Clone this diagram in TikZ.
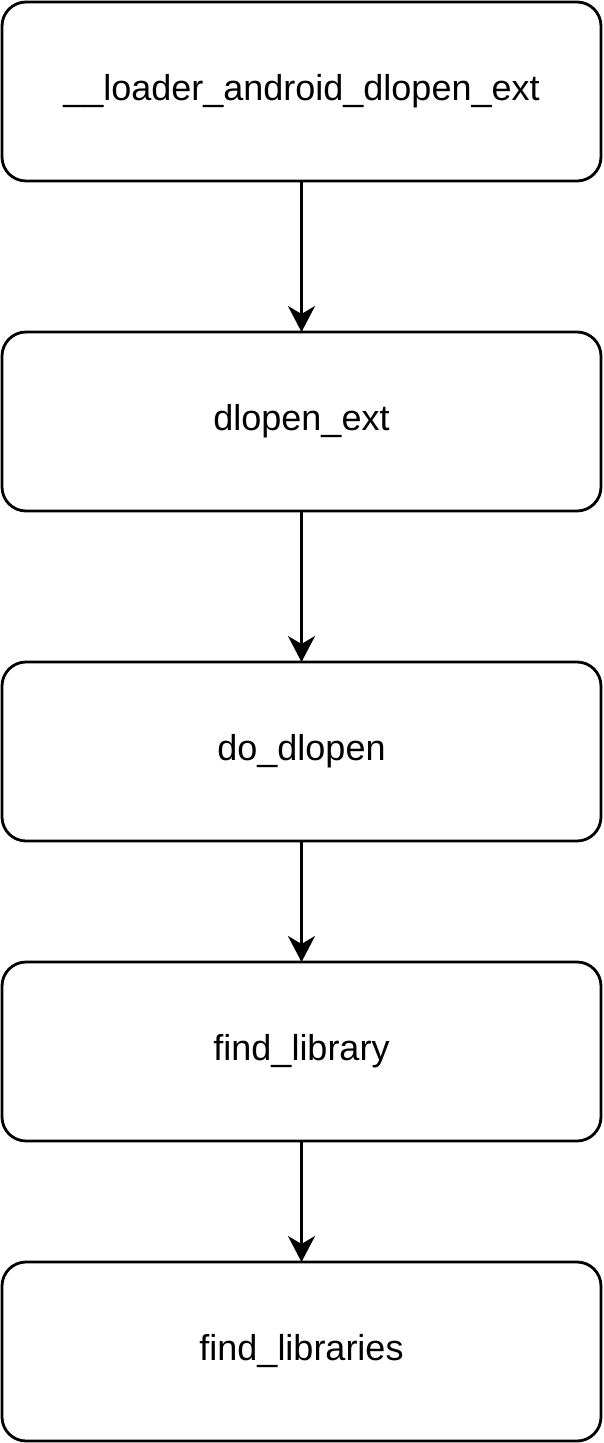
\documentclass[tikz,border=0pt]{standalone}
\usepackage{fontspec}
\setmainfont{Liberation Sans}
\usetikzlibrary{arrows.meta}
\begin{document}
\begin{tikzpicture}[x=1pt,y=-1pt,
  fnbox/.style={draw=black,line width=2.8pt,rounded corners=24pt,minimum width=599pt,minimum height=179pt,inner sep=0pt,outer sep=0pt,fill=white,font=\fontsize{36pt}{40pt}\selectfont},
  flow/.style={line width=2.8pt,-{Stealth[length=26pt,width=27pt,inset=8pt]}}]
\useasboundingbox (0,0) rectangle (603,1443);
\node[fnbox] (a) at (301.5,91.5) {\_\_loader\_android\_dlopen\_ext};
\node[fnbox] (b) at (301.5,421.5) {dlopen\_ext};
\node[fnbox] (c) at (301.5,751.5) {do\_dlopen};
\node[fnbox] (d) at (301.5,1051.5) {find\_library};
\node[fnbox] (e) at (301.5,1351.5) {find\_libraries};
\draw[flow] (a.south) -- (b.north);
\draw[flow] (b.south) -- (c.north);
\draw[flow] (c.south) -- (d.north);
\draw[flow] (d.south) -- (e.north);
\end{tikzpicture}
\end{document}
